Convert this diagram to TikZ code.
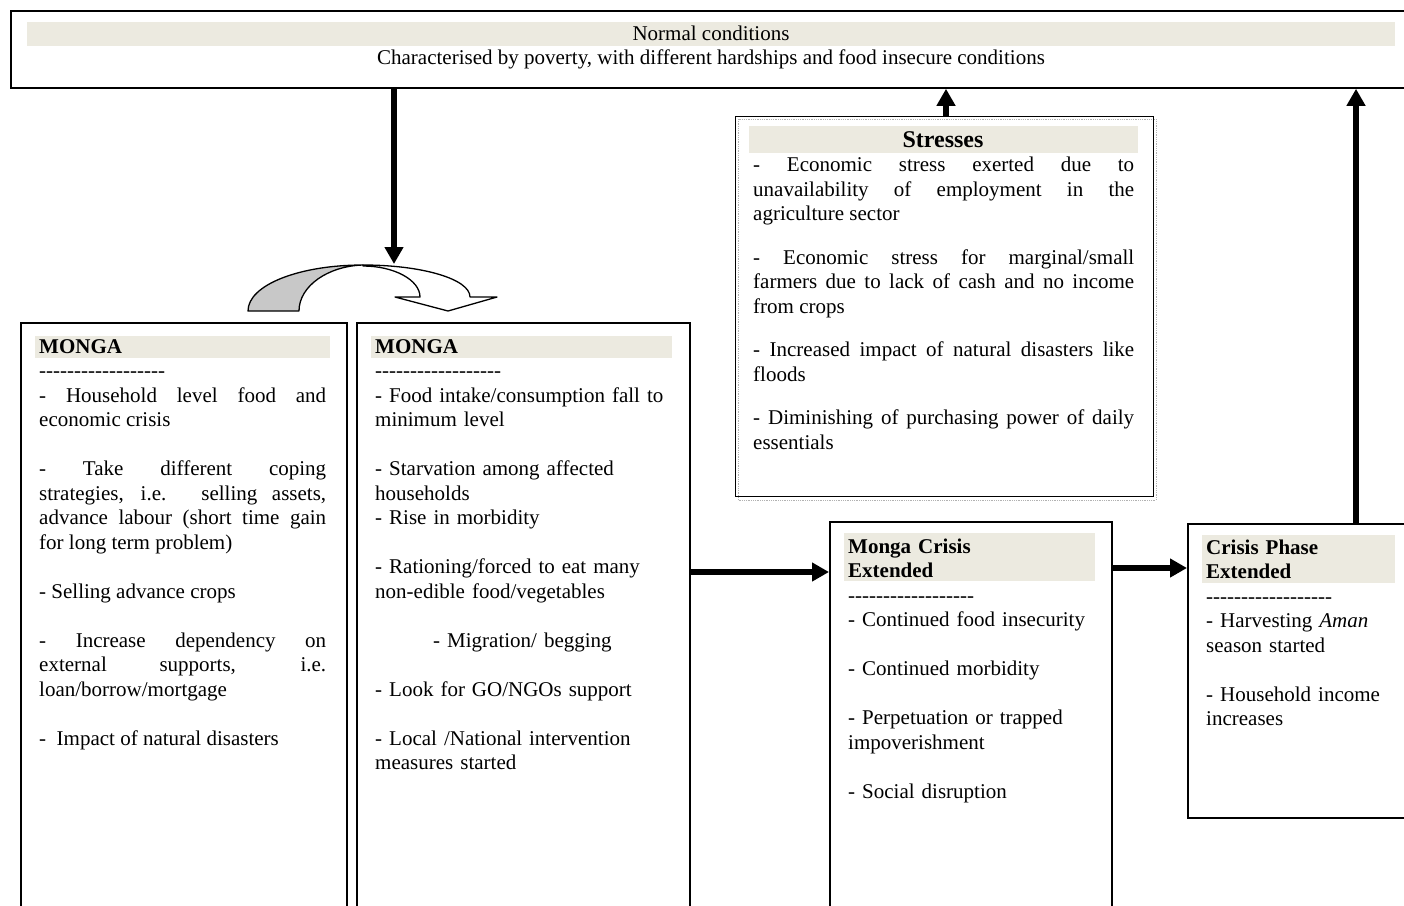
\documentclass[tikz,border=0pt]{standalone}
\usepackage{fontspec}
\setmainfont{Liberation Serif}
\usetikzlibrary{arrows.meta}
\definecolor{band}{RGB}{236,234,224}
\definecolor{arcgray}{RGB}{200,200,200}
\newcommand\hy{\mbox{-}}
\newcommand\dashrow{\hy\hy\hy\hy\hy\hy\hy\hy\hy\hy\hy\hy\hy\hy\hy\hy\hy\hy}
\newcommand\gap{\par\vspace{24.5pt}}
\newcommand\sgap{\par\vspace{19pt}}
\begin{document}
\begin{tikzpicture}[x=1pt,y=-1pt,
 box/.style={draw,line width=1.5pt,inner sep=0,anchor=north west},
 txt/.style={inner sep=0,anchor=base west,font=\fontsize{21}{24.5}\selectfont},
 arr/.style={line width=5.5pt,-{Triangle[width=18pt,length=17pt]}}]
\clip (0,0) rectangle (1404,905);
\fill[white] (0,0) rectangle (1404,905);

% top box
\node[box,line width=1.8pt,minimum width=1420pt,minimum height=77pt] (top) at (10,10) {};
\fill[band] (27,22) rectangle (1395,46);
\node[txt,anchor=base] (t1) at (711,40) {Normal conditions};
\node[txt,anchor=base] (t2) at (711,64) {Characterised by poverty, with different hardships and food insecure conditions};

% stresses box
\draw[gray!60,densely dotted,line width=0.8pt] (738,119) rectangle (1156,500);
\node[box,line width=1.2pt,minimum width=418pt,minimum height=380pt] (str) at (735,116) {};
\fill[band] (749,126) rectangle (1138,153);
\node[inner sep=0,anchor=base,font=\fontsize{24}{28}\selectfont\bfseries] (sh) at (943,147) {Stresses};
\node[txt,text width=381pt,align=justify] (st) at (753,171.5) {- Economic stress exerted due to\linebreak unavailability of employment in the\linebreak agriculture sector\sgap
- Economic stress for marginal/small\linebreak farmers due to lack of cash and no income\linebreak from crops\sgap
- Increased impact of natural disasters like\linebreak floods\sgap
- Diminishing of purchasing power of daily\linebreak essentials};

% box A
\node[box,minimum width=326pt,minimum height=700pt] (A) at (20,322) {};
\fill[band] (35,336) rectangle (330,358);
\node[txt,text width=287pt,align=justify] (At) at (39,353) {\textbf{MONGA}\par \dashrow\par
- Household level food and\linebreak economic crisis\gap
- Take different coping\linebreak strategies, i.e. selling assets,\linebreak advance labour (short time gain\linebreak for long term problem)\gap
- Selling advance crops\gap
- Increase dependency on\linebreak external supports, i.e.\linebreak loan/borrow/mortgage\gap
-\ \ Impact of natural disasters};

% box B
\node[box,minimum width=333pt,minimum height=700pt] (B) at (356,322) {};
\fill[band] (371,336) rectangle (672,358);
\node[txt,text width=310pt,align=left] (Bt) at (375,353) {\textbf{MONGA}\\ \dashrow\\
- Food intake/consumption fall to\\ minimum level\gap
- Starvation among affected\\ households\\
- Rise in morbidity\gap
- Rationing/forced to eat many\\ non-edible food/vegetables\gap
\hspace*{58pt}- Migration/ begging\gap
- Look for GO/NGOs support\gap
- Local /National intervention\\ measures started};

% box C
\node[box,minimum width=282pt,minimum height=500pt] (C) at (829,521) {};
\fill[band] (844,533) rectangle (1095,581);
\node[txt,text width=260pt,align=left] (Ct) at (848,553) {\textbf{Monga Crisis}\\ \textbf{Extended}\\ \dashrow\\
- Continued food insecurity\gap
- Continued morbidity\gap
- Perpetuation or trapped\\ impoverishment\gap
- Social disruption};

% box D
\node[box,minimum width=240pt,minimum height=294pt] (D) at (1187,523) {};
\fill[band] (1202,535) rectangle (1395,583);
\node[txt,text width=195pt,align=left] (Dt) at (1206,554) {\textbf{Crisis Phase}\\ \textbf{Extended}\\ \dashrow\\
- Harvesting \textit{Aman}\\ season started\gap
- Household income\\ increases};

% curved arrow
\filldraw[fill=arcgray,line width=1.3pt,line join=round] (248,311) .. controls (248,285) and (299,265) .. (363,265) .. controls (328,266) and (299,286) .. (299,311) -- cycle;
\filldraw[fill=white,line width=1.3pt,line join=round] (363,265) .. controls (422,265) and (470,279) .. (470,297) -- (497,297) -- (448,311) -- (395,297) -- (420,297) .. controls (420,280) and (394,266) .. (363,266) -- cycle;

% connectors
\coordinate (curvetop) at (394,264);
\draw[arr] (top.south -| curvetop) -- (curvetop);
\coordinate (sup) at (946,116);
\draw[arr] (sup) -- (sup |- top.south);
\coordinate (bc) at (689,572);
\draw[arr] (bc) -- (bc -| C.west);
\coordinate (cd) at (1111,568);
\draw[arr] (cd) -- (cd -| D.west);
\coordinate (du) at (1356,523);
\draw[arr] (du) -- (du |- top.south);
\end{tikzpicture}
\end{document}
